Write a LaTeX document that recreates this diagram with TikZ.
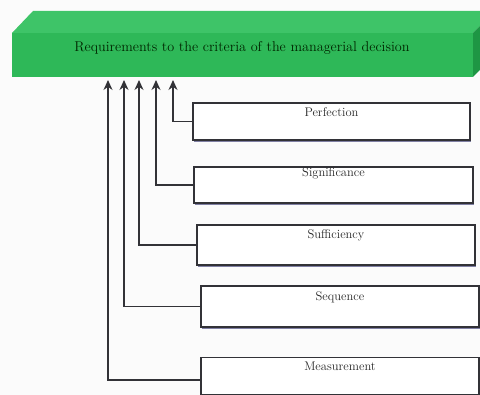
\documentclass[tikz,border=0pt]{standalone}
\usetikzlibrary{arrows.meta,shadows}
\definecolor{gfront}{RGB}{46,184,88}
\definecolor{gtop}{RGB}{62,196,104}
\definecolor{gside}{RGB}{30,150,68}
\definecolor{txt}{RGB}{40,40,40}
\definecolor{edge}{RGB}{50,50,55}
\tikzset{
  crit/.style={draw=edge, line width=1.1pt, fill=white, rectangle, inner sep=0pt,
    drop shadow={shadow xshift=1.2pt, shadow yshift=-1.6pt, fill=gray!75!blue!80!black, opacity=0.7}},
  lbl/.style={text=txt, font=\fontsize{12.5}{14}\selectfont, inner sep=0pt},
  ttl/.style={text=black!85!green, font=\fontsize{14.2}{16}\selectfont, inner sep=0pt},
  arr/.style={draw=edge, line width=1.1pt, -{Stealth[length=10pt,width=9pt]}},
}
\begin{document}
\begin{tikzpicture}[x=1pt,y=-1pt]
\useasboundingbox (0,0) rectangle (480,395);
\clip (0,0) rectangle (480,395);
\fill[white!97!gray] (0,0) rectangle (480,395);
% green bar
\fill[gtop] (12,33) -- (33,11) -- (495,11) -- (473,33) -- cycle;
\fill[gside] (473,33) -- (495,11) -- (495,55) -- (473,77) -- cycle;
\node[fill=gfront, minimum width=461pt, minimum height=44pt, inner sep=0pt] (bar) at (242.5,55) {};
\node[ttl] (title) at (242,48) {Requirements to the criteria of the managerial decision};
% arrow tips
\coordinate (t1) at (173,80);
\coordinate (t2) at (156,80);
\coordinate (t3) at (139,80);
\coordinate (t4) at (124,80);
\coordinate (t5) at (108,80);
% boxes
\node[crit, minimum width=277pt, minimum height=37pt] (p) at (331.5,121.5) {};
\node[lbl] (pl) at (331.5,112) {Perfection};
\node[crit, minimum width=279pt, minimum height=36pt] (s1) at (333.5,185) {};
\node[lbl] (s1l) at (333.5,173) {Significance};
\node[crit, minimum width=278pt, minimum height=40pt] (s2) at (336,245) {};
\node[lbl] (s2l) at (336,235) {Sufficiency};
\node[crit, minimum width=278pt, minimum height=41pt] (s3) at (340,306.5) {};
\node[lbl] (s3l) at (340,297) {Sequence};
\node[crit, minimum width=278pt, minimum height=37pt] (m) at (340,376) {};
\node[lbl] (ml) at (340,366) {Measurement};
% connectors
\draw[arr] (p.west) -| (t1);
\draw[arr] (s1.west) -| (t2);
\draw[arr] (s2.west) -| (t3);
\draw[arr] (s3.west) -| (t4);
\draw[arr] ([yshift=-4pt]m.west) -| (t5);
\end{tikzpicture}
\end{document}
